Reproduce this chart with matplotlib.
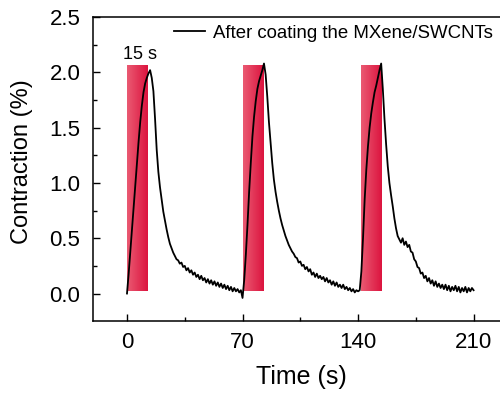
import numpy as np
import matplotlib
matplotlib.use("Agg")
import matplotlib.pyplot as plt
from matplotlib.colors import LinearSegmentedColormap

plt.rcParams['font.family'] = ['Liberation Sans', 'DejaVu Sans']

# time axis (s), one sample per second
time_s = np.arange(0, 211)

# contraction (%), 0..210 s
contraction = [
    0.00, 0.18, 0.38, 0.58, 0.78, 0.98, 1.18, 1.37, 1.55, 1.70,
    1.82, 1.90, 1.95, 1.99, 2.02, 1.95, 1.83, 1.58, 1.30, 1.10,
    0.96, 0.85, 0.74, 0.66, 0.58, 0.51, 0.45, 0.41, 0.37, 0.34,
    0.31, 0.30, 0.27, 0.28, 0.24, 0.25, 0.21, 0.23, 0.19, 0.21,
    0.17, 0.19, 0.15, 0.17, 0.13, 0.16, 0.12, 0.14, 0.10, 0.13,
    0.09, 0.12, 0.08, 0.11, 0.07, 0.10, 0.06, 0.09, 0.05, 0.08,
    0.04, 0.07, 0.03, 0.06, 0.02, 0.05, 0.02, 0.04, 0.01, 0.03,
    -0.04, 0.12, 0.35, 0.62, 0.92, 1.18, 1.42, 1.60, 1.74, 1.85,
    1.92, 1.97, 2.02, 2.08, 1.98, 1.78, 1.55, 1.36, 1.18, 1.03,
    0.92, 0.83, 0.75, 0.68, 0.62, 0.57, 0.52, 0.48, 0.44, 0.41,
    0.38, 0.36, 0.33, 0.32, 0.28, 0.29, 0.25, 0.26, 0.22, 0.24,
    0.20, 0.22, 0.17, 0.19, 0.15, 0.18, 0.14, 0.16, 0.13, 0.15,
    0.11, 0.14, 0.10, 0.12, 0.08, 0.11, 0.07, 0.10, 0.06, 0.08,
    0.05, 0.08, 0.04, 0.06, 0.03, 0.05, 0.02, 0.04, 0.01, 0.03,
    0.02, 0.03, 0.20, 0.50, 0.85, 1.12, 1.33, 1.50, 1.63, 1.73,
    1.82, 1.88, 1.95, 2.02, 2.08, 1.85, 1.58, 1.35, 1.15, 1.00,
    0.89, 0.79, 0.68, 0.59, 0.52, 0.49, 0.46, 0.50, 0.44, 0.47,
    0.42, 0.44, 0.38, 0.37, 0.31, 0.29, 0.24, 0.23, 0.18, 0.19,
    0.14, 0.16, 0.11, 0.14, 0.09, 0.12, 0.07, 0.11, 0.06, 0.09,
    0.05, 0.08, 0.04, 0.08, 0.03, 0.07, 0.02, 0.06, 0.03, 0.07,
    0.02, 0.06, 0.01, 0.05, 0.02, 0.06, 0.01, 0.05, 0.02, 0.05,
    0.03,
]

# light-on windows (red bars)
light_start = [0.0, 70.3, 141.8]
light_width = 12.4
light_low = 0.02
light_high = 2.06

red_cmap = LinearSegmentedColormap.from_list("light", ["#ea5a72", "#dc143f"])

fig = plt.figure(figsize=(5.0, 3.97), dpi=100)
ax = fig.add_axes([0.186, 0.191, 0.814, 0.766])

grad = np.linspace(0, 1, 64).reshape(1, -1)
for s in light_start:
    ax.imshow(grad, cmap=red_cmap, aspect='auto', zorder=1,
              extent=[s, s + light_width, light_low, light_high])

ax.plot(time_s, contraction, color='black', lw=1.3, zorder=3,
        label='After coating the MXene/SWCNTs')

ax.text(-2.5, 2.16, '15 s', fontsize=13, ha='left', va='center')

ax.set_xlim(-20.6, 226)
ax.set_ylim(-0.25, 2.5)
ax.set_xticks([0, 70, 140, 210])
ax.set_xticks([35, 105, 175], minor=True)
ax.set_yticks([0.0, 0.5, 1.0, 1.5, 2.0, 2.5])
ax.set_yticks([0.25, 0.75, 1.25, 1.75, 2.25], minor=True)
ax.set_yticklabels(['0.0', '0.5', '1.0', '1.5', '2.0', '2.5'])

ax.tick_params(which='both', direction='in', labelsize=16, width=1.0)
ax.tick_params(which='major', length=5)
ax.tick_params(which='minor', length=3)
ax.tick_params(axis='y', which='major', pad=9)
ax.tick_params(axis='x', which='major', pad=8)
ax.spines['right'].set_visible(False)
for sp in ['left', 'bottom', 'top']:
    ax.spines[sp].set_linewidth(1.1)

ax.set_xlabel('Time (s)', fontsize=18)
ax.set_ylabel('Contraction (%)', fontsize=17)
ax.xaxis.set_label_coords(0.512, -0.145)
ax.yaxis.set_label_coords(-0.147, 0.526)

ax.legend(loc='upper right', frameon=False, fontsize=13.4, handlelength=1.7,
          handletextpad=0.4, borderaxespad=0.0, bbox_to_anchor=(1.0, 1.0))

fig.savefig('out.png', dpi=100)
